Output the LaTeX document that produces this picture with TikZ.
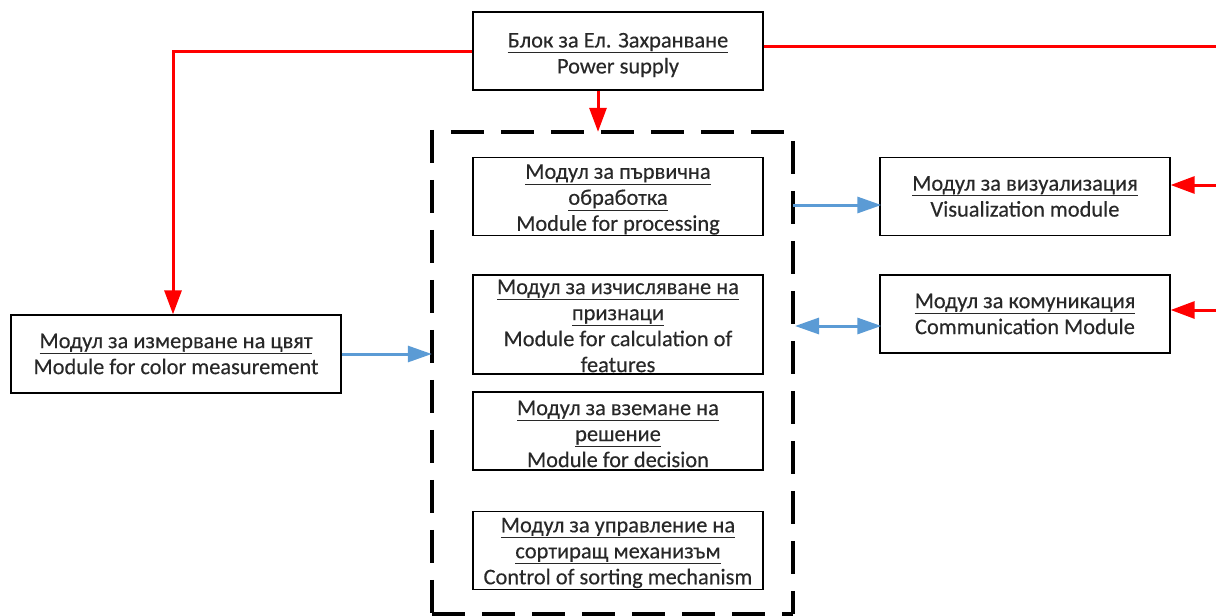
\documentclass[tikz,border=0pt]{standalone}
\usepackage{fontspec}
\setmainfont{Carlito}[FakeBold=0.3]
\usetikzlibrary{arrows.meta,calc}
\definecolor{txt}{RGB}{40,40,40}
\definecolor{pwr}{RGB}{255,0,0}
\definecolor{dat}{RGB}{91,155,213}
\tikzset{
  blk/.style={draw=black, line width=1.3pt, fill=white, minimum width=290pt, minimum height=78pt,
    inner sep=0pt},
  lbl/.style={inner sep=0pt, align=center, text=txt, font=\fontsize{22.4}{26}\selectfont},
  redln/.style={draw=pwr, line width=3pt},
  redarr/.style={redln, -{Triangle[length=24pt,width=17pt]}},
  bluearr/.style={draw=dat, line width=3pt, -{Triangle[length=24pt,width=16pt]}},
  bluedbl/.style={draw=dat, line width=3pt, {Triangle[length=24pt,width=16pt]}-{Triangle[length=24pt,width=16pt]}},
  dashln/.style={draw=black, line width=4pt, dash pattern=on 33pt off 17pt}
}
\begin{document}
\begin{tikzpicture}[x=1pt,y=-1pt]
\useasboundingbox (0,0) rectangle (1216,616);

% frame of the core group (invisible node for anchors)
\node[draw=none, minimum width=361pt, minimum height=482pt, inner sep=0pt] (core) at (612.5,373) {};
\draw[dashln, dash phase=31pt] (core.north west) -- (core.north east);
\draw[dashln, dash phase=41pt] (core.north east) -- (core.south east);
\draw[dashln] (core.south west) -- (core.south east);
\draw[dashln] ([yshift=2pt]core.north west) -- (core.south west);

% boxes
\node[blk] (power) at (618,51) {};
\node[blk] (proc) at (618,196.5) {};
\node[blk, minimum height=99pt] (calc) at (618,324.5) {};
\node[blk] (dec) at (618,431) {};
\node[blk] (sort) at (618,550.5) {};
\node[blk, minimum width=330pt] (color) at (176,354) {};
\node[blk] (vis) at (1025,196.5) {};
\node[blk] (comm) at (1025,314) {};

% texts
\node[lbl] (power-t) at ([yshift=-4pt]power.center) {\underline{Блок за Ел. Захранване}\\Power supply};
\node[lbl] (proc-t) at ([yshift=-3pt]proc.center) {\underline{Модул за първична}\\\underline{обработка}\\Module for processing};
\node[lbl] (calc-t) at ([yshift=-1.5pt]calc.center) {\underline{Модул за изчисляване на}\\\underline{признаци}\\Module for calculation of\\features};
\node[lbl] (dec-t) at ([yshift=-3pt]dec.center) {\underline{Модул за вземане на}\\\underline{решение}\\Module for decision};
\node[lbl] (sort-t) at ([yshift=-2.5pt]sort.center) {\underline{Модул за управление на}\\\underline{сортиращ механизъм}\\Control of sorting mechanism};
\node[lbl] (color-t) at (color.center) {\underline{Модул за измерване на цвят}\\Module for color measurement};
\node[lbl] (vis-t) at (vis.center) {\underline{Модул за визуализация}\\Visualization module};
\node[lbl] (comm-t) at (comm.center) {\underline{Модул за комуникация}\\Communication Module};

% power connections
\coordinate (rtop) at (1216,46);
\coordinate (rv) at (1216,185);
\coordinate (rc) at (1216,310);
\draw[redarr] (power.west) -| ([xshift=-3pt]color.north);
\draw[redln] (power.east |- rtop) -- (rtop);
\draw[redarr] ([xshift=-20pt]power.south) -- ([xshift=-20pt]power.south |- core.north);
\draw[redarr] (rv) -- (rv -| vis.east);
\draw[redarr] (rc) -- (rc -| comm.east);

% data connections
\draw[bluearr] (color.east) -- (color.east -| core.west);
\coordinate (pv) at (793,205);
\coordinate (pc) at (795,326);
\draw[bluearr] (pv) -- ([xshift=2pt]pv -| vis.west);
\draw[bluedbl] (pc) -- ([xshift=2pt]pc -| comm.west);
\end{tikzpicture}
\end{document}
